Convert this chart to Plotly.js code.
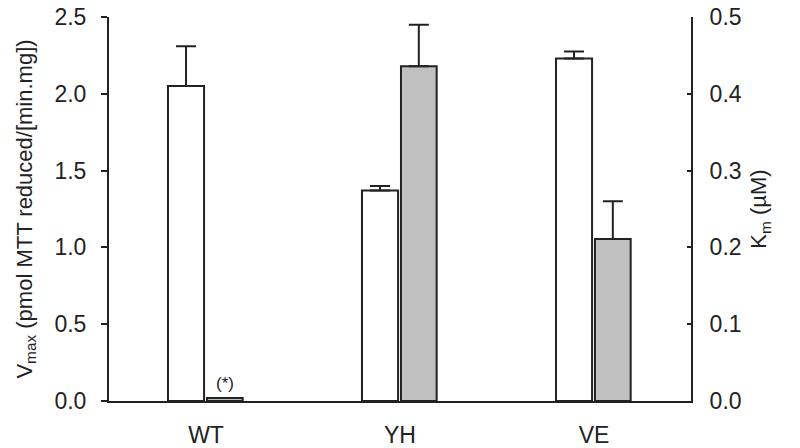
<!DOCTYPE html>
<html>
<head>
<meta charset="utf-8">
<script src="https://cdn.plot.ly/plotly-3.0.1.min.js"></script>
<style>html,body{margin:0;padding:0;background:#fff;}#chart{width:800px;height:448px;}</style>
</head>
<body>
<div id="chart"></div>
<script>
const categories = ['WT', 'YH', 'VE'];
const vmax = [2.05, 1.37, 2.23];
const vmaxErr = [0.26, 0.03, 0.045];
const km = [0.004, 0.436, 0.211];
const kmErr = [null, 0.054, 0.049];
const starLabel = '(*)';

const ink = '#222';
const fontFam = 'Liberation Sans, Arial, sans-serif';

const traceVmax = {
  type: 'bar', x: categories, y: vmax, yaxis: 'y',
  offset: -0.196, width: 0.186,
  marker: {color: '#ffffff', line: {color: ink, width: 2}},
  error_y: {type: 'data', symmetric: false, array: vmaxErr, arrayminus: vmaxErr.map(() => 0),
            color: ink, thickness: 2, width: 10},
  showlegend: false, hoverinfo: 'none'
};
const traceKm = {
  type: 'bar', x: categories, y: km, yaxis: 'y2',
  offset: 0.005, width: 0.184,
  marker: {color: '#c0c0c0', line: {color: ink, width: 2}},
  error_y: {type: 'data', symmetric: false, array: kmErr, arrayminus: kmErr.map(() => 0),
            color: ink, thickness: 2, width: 10},
  showlegend: false, hoverinfo: 'none'
};

const layout = {
  width: 800, height: 448,
  margin: {l: 109, r: 109, t: 17, b: 47},
  paper_bgcolor: '#fff', plot_bgcolor: '#fff',
  font: {family: fontFam, color: ink, size: 22},
  bargap: 0,
  xaxis: {
    type: 'category', range: [-0.5, 2.5], showline: true, linecolor: ink, linewidth: 2,
    ticks: '', showgrid: false, zeroline: false, tickfont: {size: 23, color: ink}, ticklabelstandoff: 12
  },
  yaxis: {
    range: [0, 2.5], dtick: 0.5, tickformat: '.1f', showline: true, linecolor: ink, linewidth: 2,
    ticks: 'outside', ticklen: 6, tickwidth: 2, tickcolor: ink, showgrid: false, zeroline: false,
    tickfont: {size: 23, color: ink}, ticklabelstandoff: 10,
    title: {text: 'V<sub>max</sub> (pmol MTT reduced/[min.mg])', font: {size: 22, color: ink}, standoff: 16}
  },
  yaxis2: {
    overlaying: 'y', side: 'right', range: [0, 0.5], dtick: 0.1, tickformat: '.1f',
    showline: true, linecolor: ink, linewidth: 2,
    ticks: 'inside', ticklen: 4, tickwidth: 2, tickcolor: ink, showgrid: false, zeroline: false,
    tickfont: {size: 23, color: ink}, ticklabelstandoff: 12,
    title: {text: 'K<sub>m</sub> (µM)', font: {size: 22, color: ink}, standoff: 10}
  },
  annotations: [{
    x: categories[0], xshift: 0.097 * 194, y: km[0], yref: 'y2', yanchor: 'bottom', yshift: 3,
    text: starLabel, showarrow: false, font: {size: 17, color: ink}
  }]
};

Plotly.newPlot('chart', [traceVmax, traceKm], layout, {staticPlot: true, displayModeBar: false});
</script>
</body>
</html>
